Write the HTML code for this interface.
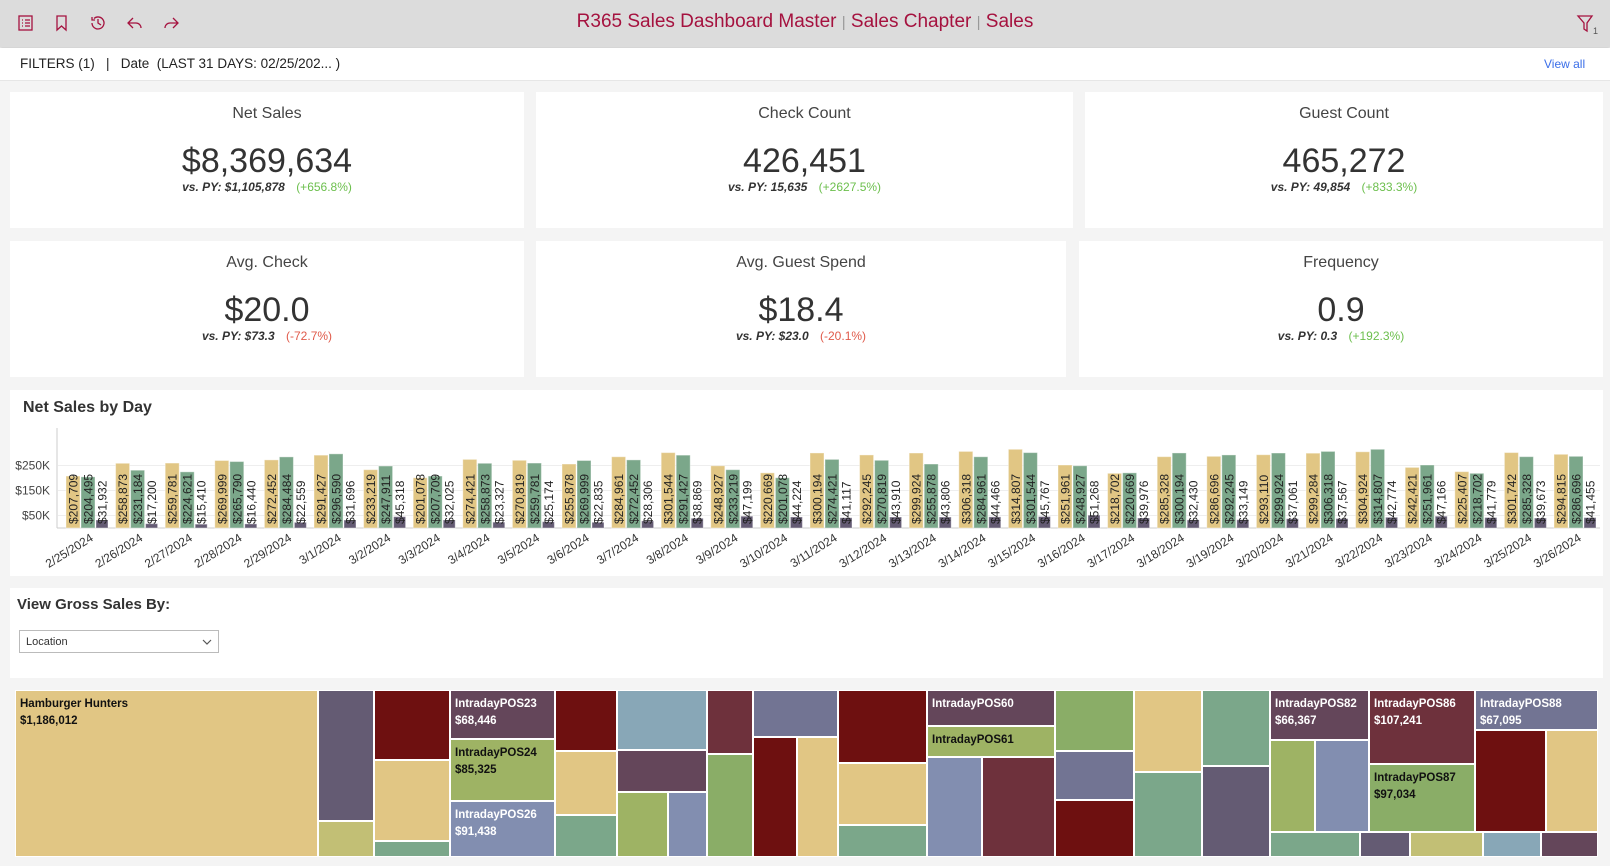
<!DOCTYPE html>
<html><head><meta charset="utf-8">
<style>
*{box-sizing:border-box;margin:0;padding:0}
body{width:1610px;height:866px;background:#f4f4f4;font-family:"Liberation Sans",sans-serif;position:relative;overflow:hidden;color:#333}
.abs{position:absolute}
.hdr{left:0;top:0;width:1610px;height:47px;background:#dcdcdc;box-shadow:0 2px 3px rgba(0,0,0,.15)}
.title{left:0;top:11px;width:1610px;text-align:center;color:#a5123f;font-size:19px}
.title span{color:#999;font-size:15px}
.fbar{left:0;top:48px;width:1610px;height:33px;background:#fff;border-bottom:1px solid #e6e6e6;font-size:13.5px;color:#222}
.card{background:#fff;text-align:center}
.card .t{position:absolute;left:0;right:0;top:13px;font-size:16px;color:#444}
.card .v{position:absolute;left:0;right:0;top:50px;font-size:34px;color:#333}
.card .s{position:absolute;left:0;right:0;top:88px;font-size:12px;color:#333;font-style:italic;font-weight:bold}
.card .s b{font-style:normal;font-weight:normal;margin-left:8px}
.pos{color:#6cbf4d}.neg{color:#e05a4a}
.panel{background:#fff}
.tm{position:absolute;border:1px solid #fff;font-size:11.5px;font-weight:bold;padding:5px 4px;line-height:17px;color:#111;overflow:hidden}
.w{color:#fff}
.ic{top:13px;width:20px;height:20px}
</style></head><body>
<div class="abs hdr"></div>
<svg class="abs ic" style="left:16px" viewBox="0 0 20 20"><rect x="3" y="3" width="13" height="14" fill="none" stroke="#a5123f" stroke-width="1.3"/><path d="M6 7h1M9 7h5M6 10h1M9 10h5M6 13h1M9 13h5" stroke="#a5123f" stroke-width="1.3"/></svg>
<svg class="abs ic" style="left:52px" viewBox="0 0 20 20"><path d="M5 3h9v14l-4.5-4-4.5 4z" fill="none" stroke="#a5123f" stroke-width="1.3"/></svg>
<svg class="abs ic" style="left:88px" viewBox="0 0 20 20"><path d="M4 10a6 6 0 1 0 2-4.5M4 4v3h3M10 6v4l3 2" fill="none" stroke="#a5123f" stroke-width="1.3"/></svg>
<svg class="abs ic" style="left:125px" viewBox="0 0 20 20"><path d="M8 5l-5 5 5 5M3 10h8a5 5 0 0 1 5 5" fill="none" stroke="#a5123f" stroke-width="1.3"/></svg>
<svg class="abs ic" style="left:161px" viewBox="0 0 20 20"><path d="M12 5l5 5-5 5M17 10H9a5 5 0 0 0-5 5" fill="none" stroke="#a5123f" stroke-width="1.3"/></svg>
<div class="abs title">R365 Sales Dashboard Master <span>|</span> Sales Chapter <span>|</span> Sales</div>
<svg class="abs" style="left:1576px;top:14px;width:24px;height:22px" viewBox="0 0 24 22"><path d="M2 2h14l-5 7v8l-3-2V9z" fill="none" stroke="#a5123f" stroke-width="1.3"/><text x="17" y="20" font-size="9" fill="#555">1</text></svg>
<div class="abs fbar">
 <span class="abs" style="left:20px;top:8px">FILTERS (1) &nbsp; | &nbsp; Date &nbsp;(LAST 31 DAYS: 02/25/202... )</span>
 <span class="abs" style="left:1544px;top:9px;font-size:12px;color:#3a6ee8">View all</span>
</div>

<div class="abs card" style="left:10px;top:92px;width:514px;height:136px"><div class="t">Net Sales</div><div class="v">$8,369,634</div><div class="s">vs. PY: $1,105,878 <b class="pos">(+656.8%)</b></div></div>
<div class="abs card" style="left:536px;top:92px;width:537px;height:136px"><div class="t">Check Count</div><div class="v">426,451</div><div class="s">vs. PY: 15,635 <b class="pos">(+2627.5%)</b></div></div>
<div class="abs card" style="left:1085px;top:92px;width:518px;height:136px"><div class="t">Guest Count</div><div class="v">465,272</div><div class="s">vs. PY: 49,854 <b class="pos">(+833.3%)</b></div></div>
<div class="abs card" style="left:10px;top:241px;width:514px;height:136px"><div class="t">Avg. Check</div><div class="v">$20.0</div><div class="s">vs. PY: $73.3 <b class="neg">(-72.7%)</b></div></div>
<div class="abs card" style="left:536px;top:241px;width:530px;height:136px"><div class="t">Avg. Guest Spend</div><div class="v">$18.4</div><div class="s">vs. PY: $23.0 <b class="neg">(-20.1%)</b></div></div>
<div class="abs card" style="left:1079px;top:241px;width:524px;height:136px"><div class="t">Frequency</div><div class="v">0.9</div><div class="s">vs. PY: 0.3 <b class="pos">(+192.3%)</b></div></div>

<div class="abs panel" style="left:10px;top:390px;width:1593px;height:186px"></div>
<div class="abs" style="left:23px;top:399px;font-size:16px;font-weight:bold;color:#333">Net Sales by Day</div>
<svg id="chart" class="abs" style="left:0;top:0" width="1610" height="590"></svg>

<div class="abs panel" style="left:10px;top:588px;width:1593px;height:90px"></div>
<div class="abs" style="left:17px;top:596px;font-size:15px;font-weight:bold;color:#333">View Gross Sales By:</div>
<div class="abs" style="left:19px;top:630px;width:200px;height:23px;border:1px solid #bbb;background:#fff;font-size:11px;padding:5px 6px">Location<svg class="abs" style="right:6px;top:8px" width="10" height="7"><path d="M1 1l4 4 4-4" fill="none" stroke="#555" stroke-width="1.2"/></svg></div>

<div id="treemap"></div>

<script>
const dates=["2/25/2024","2/26/2024","2/27/2024","2/28/2024","2/29/2024","3/1/2024","3/2/2024","3/3/2024","3/4/2024","3/5/2024","3/6/2024","3/7/2024","3/8/2024","3/9/2024","3/10/2024","3/11/2024","3/12/2024","3/13/2024","3/14/2024","3/15/2024","3/16/2024","3/17/2024","3/18/2024","3/19/2024","3/20/2024","3/21/2024","3/22/2024","3/23/2024","3/24/2024","3/25/2024","3/26/2024"];
const seriesA=[207709,258873,259781,269999,272452,291427,233219,201078,274421,270819,255878,284961,301544,248927,220669,300194,292245,299924,306318,314807,251961,218702,285328,286696,293110,299284,304924,242421,225407,301742,294815];
const seriesB=[204495,231184,224621,265790,284484,296590,247911,207709,258873,259781,269999,272452,291427,233219,201078,274421,270819,255878,284961,301544,248927,220669,300194,292245,299924,306318,314807,251961,218702,285328,286696];
const seriesC=[31932,17200,15410,16440,22559,31696,45318,32025,23327,25174,22835,28306,38869,47199,44224,41117,43910,43806,44466,45767,51268,39976,32430,33149,37061,37567,42774,47166,41779,39673,41455];
const yTicks=[50000,150000,250000];
const yTickLabels=["$50K","$150K","$250K"];
const NS="http://www.w3.org/2000/svg";
const svg=document.getElementById('chart');
const y0=528,ppu=25/100000,x0=66,gw=49.6;
const yScale=v=>y0-v*ppu;
const xScale=i=>x0+i*gw;
function mk(t,a){const e=document.createElementNS(NS,t);for(const k in a)e.setAttribute(k,a[k]);svg.appendChild(e);return e;}
const fmt=v=>"$"+v.toLocaleString("en-US");
yTicks.forEach((t,i)=>{
 const g=mk('line',{x1:58,x2:1600,y1:yScale(t),y2:yScale(t),stroke:'#eee'});
 
 
 const l=mk('text',{x:50,y:yScale(t)+4,'text-anchor':'end','font-size':12,fill:'#444','font-family':'Liberation Sans'});
 l.textContent=yTickLabels[i];
 
 
});
const ax=mk('line',{x1:57,x2:57,y1:428,y2:y0,stroke:'#ccc'});


const bx=mk('line',{x1:57,x2:1600,y1:y0,y2:y0,stroke:'#ccc'});


const sets=[[seriesA,'#e1c684',0,15],[seriesB,'#7ba78a',15,15],[seriesC,'#645b73',30,13]];
dates.forEach((d,i)=>{
 sets.forEach(([arr,col,off,w])=>{
  const x=xScale(i)+off,v=arr[i];
  const r=mk('rect',{x:x,y:yScale(v),width:w-1,height:v*ppu,fill:col,stroke:'rgba(255,255,255,0.4)'});
  
  
  const tx=x+w/2+4,ty=y0-4;
  const t=mk('text',{x:tx,y:ty,transform:`rotate(-90 ${tx} ${ty})`,'font-size':12,fill:'#222','font-family':'Liberation Sans'});
  t.textContent=fmt(v);
  
  
 });
 const lx=xScale(i)+28,ly=540;
 const t=mk('text',{x:lx,y:ly,'text-anchor':'end',transform:`rotate(-32 ${lx} ${ly})`,'font-size':12,fill:'#333','font-family':'Liberation Sans'});
 t.textContent=d;
 
 
});

const Y='#e1c684',G='#7ba78a',P='#645b73',R='#6e1010',M='#64465a',O='#9eb364',B='#828eb0',LB='#88a7b7',MR='#6e313c',GG='#8aad67',PB='#727493',K='#c2bf75';
const rects=[
[15,690,318,857,Y,'Hamburger Hunters','$1,186,012',0],
[318,690,374,821,P],[318,821,374,857,K],
[374,690,450,760,R],[374,760,450,841,Y],[374,841,450,857,G],
[450,690,555,739,M,'IntradayPOS23','$68,446',1],[450,739,555,801,O,'IntradayPOS24','$85,325',0],[450,801,555,857,B,'IntradayPOS26','$91,438',1],
[555,690,617,751,R],[555,751,617,815,Y],[555,815,617,857,G],
[617,690,707,750,LB],[617,750,707,792,M],[617,792,668,857,O],[668,792,707,857,B],
[707,690,753,754,MR],[707,754,753,857,GG],
[753,690,838,737,PB],[753,737,797,857,R],[797,737,838,857,Y],
[838,690,927,763,R],[838,763,927,825,Y],[838,825,927,857,G],
[927,690,1055,726,M,'IntradayPOS60','',1],[927,726,1055,757,O,'IntradayPOS61','',0],[927,757,982,857,B],[982,757,1055,857,MR],
[1055,690,1134,751,GG],[1055,751,1134,800,PB],[1055,800,1134,857,R],
[1134,690,1202,772,Y],[1134,772,1202,857,G],
[1202,690,1270,766,G],[1202,766,1270,857,P],
[1270,690,1369,740,M,'IntradayPOS82','$66,367',1],[1270,740,1315,832,O],[1315,740,1369,832,B],
[1369,690,1475,764,MR,'IntradayPOS86','$107,241',1],[1369,764,1475,832,GG,'IntradayPOS87','$97,034',0],
[1475,690,1598,730,PB,'IntradayPOS88','$67,095',1],[1475,730,1546,832,R],[1546,730,1598,832,Y],
[1270,832,1360,857,G],[1360,832,1410,857,P],[1410,832,1483,857,K],[1483,832,1541,857,LB],[1541,832,1598,857,M]
];
const tm=document.getElementById('treemap');
rects.forEach(r=>{
 const d=document.createElement('div');
 d.className='tm'+(r[7]?' w':'');
 d.style.cssText=`left:${r[0]}px;top:${r[1]}px;width:${r[2]-r[0]}px;height:${r[3]-r[1]}px;background:${r[4]}`;
 if(r[5])d.innerHTML=r[5]+(r[6]?'<br>'+r[6]:'');
 
 
 tm.appendChild(d);
});
</script>
</body></html>
